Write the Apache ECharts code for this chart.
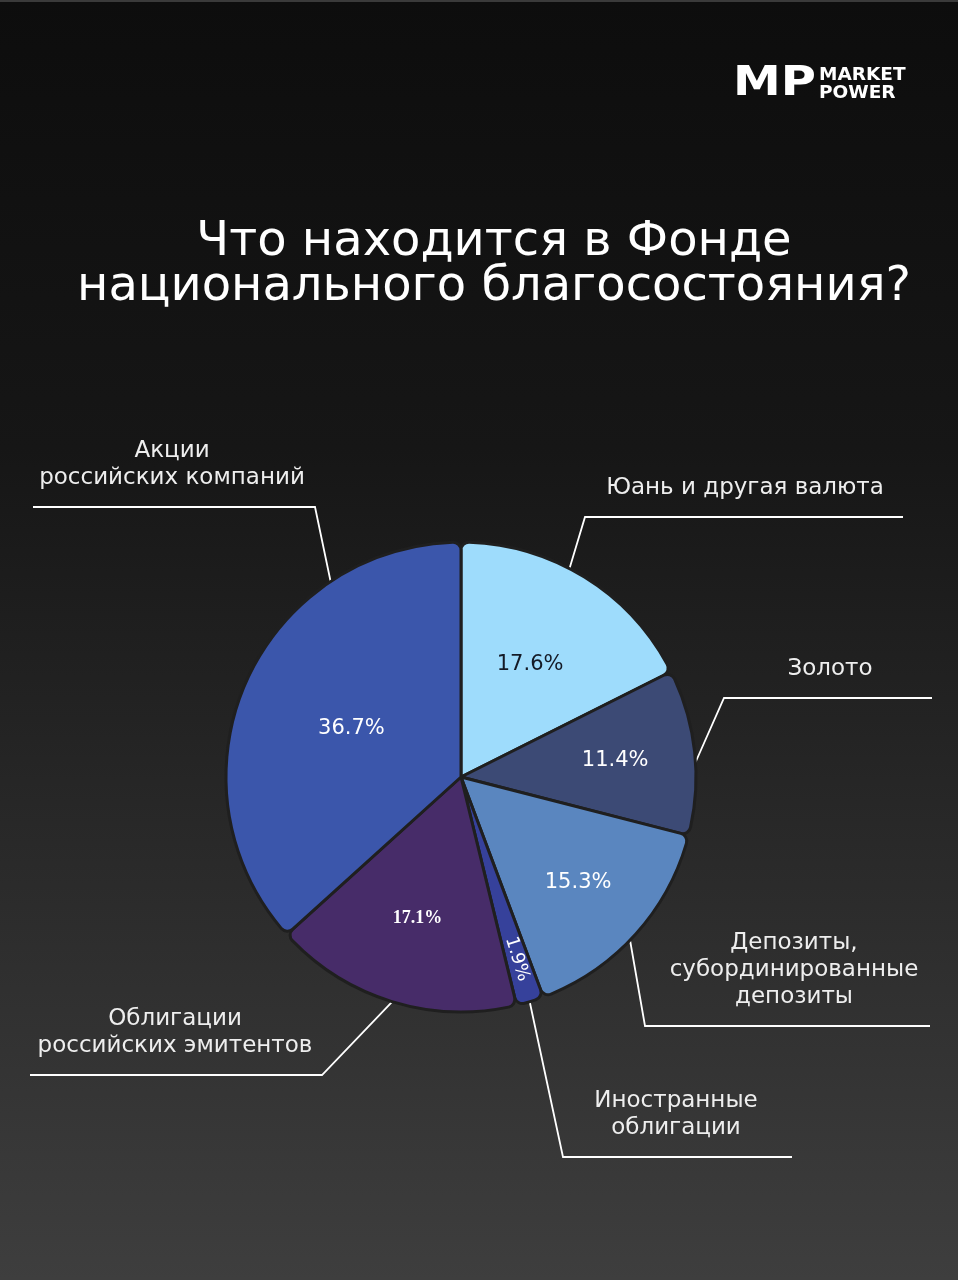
<!DOCTYPE html>
<html><head><meta charset="utf-8">
<script src="https://cdn.jsdelivr.net/npm/echarts@6/dist/echarts.min.js"></script>
<style>html,body{margin:0;padding:0;background:#111}#c{width:958px;height:1280px}</style>
</head><body><div id="c"></div>
<script>
// ---- data ----
const categories = ['Юань и другая валюта', 'Золото', 'Депозиты,\nсубординированные\nдепозиты', 'Иностранные\nоблигации', 'Облигации\nроссийских эмитентов', 'Акции\nроссийских компаний'];
const values = [17.6, 11.4, 15.3, 1.9, 17.1, 36.7];
const titleLines = ['Что находится в Фонде', 'национального благосостояния?'];

// ---- style ----
const colors = ['#9edcfc', '#3c4a75', '#5a86bf', '#36419b', '#472c69', '#3b56ab'];
const insideTextColors = ['#141a26', '#ffffff', '#ffffff', '#ffffff', '#ffffff', '#ffffff'];
const insideDist = [0.56, 0.66, 0.67, 0.81, 0.63, 0.51];
const CX = 461, CY = 777, R = 235;
// leader line layout: anchor angle (deg, ccw), elbow point, end x, text centre x
const leader = [
  {a: 62.5, ex: 585, ey: 517, endX: 903, tx: 745},
  {a: 3.6,  ex: 724, ey: 698, endX: 932, tx: 830},
  {a: -44,  ex: 645, ey: 1026, endX: 930, tx: 794},
  {a: -73,  ex: 563, ey: 1157, endX: 792, tx: 676},
  {a: -107, ex: 322, ey: 1075, endX: 30, tx: 175},
  {a: 123.7, ex: 315, ey: 507, endX: 33, tx: 172}
];
const FONT = 'DejaVu Sans';

const total = values.reduce((s, v) => s + v, 0);
const midAngles = [];
{ let acc = 0; values.forEach(v => { midAngles.push(90 - (acc + v / 2) / total * 360); acc += v; }); }

const data = categories.map((c, i) => ({
  name: c, value: values[i],
  itemStyle: {color: colors[i]}
}));

const chart = echarts.init(document.getElementById('c'), null, {renderer: 'canvas'});
chart.setOption({
  backgroundColor: 'transparent',
  animation: false,
  graphic: [
    {type: 'rect', z: -10, shape: {x: 0, y: 0, width: 958, height: 1280},
     style: {fill: new echarts.graphic.LinearGradient(0, 0, 0, 1, [
       {offset: 0, color: '#0d0d0d'}, {offset: 0.35, color: '#161616'}, {offset: 1, color: '#3e3e3e'}])}},
    {type: 'rect', z: -9, shape: {x: 0, y: 0, width: 958, height: 2}, style: {fill: '#3a3a3a'}},
    {type: 'text', x: 733, y: 85, scaleX: 1.2, style: {text: 'MP', font: '900 40px "DejaVu Sans"', fill: '#ffffff', textVerticalAlign: 'middle'}},
    {type: 'text', x: 819, y: 75, style: {text: 'MARKET', font: 'bold 18.5px "DejaVu Sans"', fill: '#ffffff', textVerticalAlign: 'middle'}},
    {type: 'text', x: 819, y: 93, style: {text: 'POWER', font: 'bold 18.5px "DejaVu Sans"', fill: '#ffffff', textVerticalAlign: 'middle'}},
    {type: 'text', x: 494, y: 243, style: {text: titleLines[0], font: '48px "DejaVu Sans"', fill: '#ffffff', textAlign: 'center', textVerticalAlign: 'middle'}},
    {type: 'text', x: 494, y: 288, style: {text: titleLines[1], font: '48px "DejaVu Sans"', fill: '#ffffff', textAlign: 'center', textVerticalAlign: 'middle'}}
  ],
  series: [
    {
      type: 'pie', center: [CX, CY], radius: [0, R], startAngle: 90, clockwise: true,
      silent: true,
      itemStyle: {borderColor: '#1f1f1f', borderWidth: 3, borderRadius: 8},
      label: {
        show: true, position: 'inside', fontFamily: FONT, fontSize: 21, color: '#fff',
        formatter: p => p.value.toFixed(1) + '%'
      },
      labelLine: {show: false},
      labelLayout: p => {
        const i = p.dataIndex;
        const a = midAngles[i] * Math.PI / 180;
        const d = insideDist[i] * R;
        return {x: CX + d * Math.cos(a), y: CY - d * Math.sin(a), align: 'center', verticalAlign: 'middle'};
      },
      data: data.map((d, i) => Object.assign({}, d, {
        label: Object.assign({color: insideTextColors[i]},
          i === 4 ? {fontFamily: 'Liberation Serif', fontSize: 18, fontWeight: 'bold'} : {},
          i === 3 ? {rotate: -73, fontSize: 18} : {})
      }))
    },
    {
      type: 'pie', center: [CX, CY], radius: [0, R], startAngle: 90, clockwise: true,
      silent: true, z: 1,
      itemStyle: {color: 'rgba(0,0,0,0)', borderWidth: 0},
      label: {show: true, position: 'outside', fontFamily: FONT, fontSize: 23, color: '#eeeeee', lineHeight: 27, align: 'center',
              overflow: 'none', width: 400, formatter: p => p.name},
      labelLine: {show: true, lineStyle: {color: '#ffffff', width: 1.8}, length: 20, length2: 20},
      labelLayout: p => {
        const L = leader[p.dataIndex];
        const a = L.a * Math.PI / 180;
        const sx = CX + R * Math.cos(a), sy = CY - R * Math.sin(a);
        return {
          x: L.tx, y: L.ey - 15, align: 'center', verticalAlign: 'bottom',
          labelLinePoints: [[sx, sy], [L.ex, L.ey], [L.endX, L.ey]]
        };
      },
      data: data.map(d => ({name: d.name, value: d.value, itemStyle: {color: 'rgba(0,0,0,0)'}}))
    }
  ]
});
</script>
</body></html>
